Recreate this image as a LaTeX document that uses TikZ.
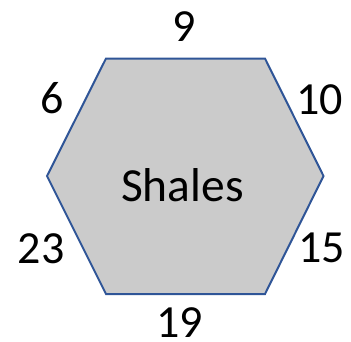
\documentclass[tikz,border=0pt]{standalone}
\usepackage{fontspec}
\setmainfont{Carlito}
\usepackage{tikz}

\definecolor{shaleGray}{HTML}{CBCBCB}
\definecolor{edgeBlue}{HTML}{2F5597}

\begin{document}
\begin{tikzpicture}[x=1pt,y=-1pt,
hexface/.style={fill=shaleGray,draw=edgeBlue,line width=2pt,line join=miter},
sideLabel/.style={anchor=base,inner sep=0pt,font=\fontsize{46}{54}\selectfont},
rockName/.style={anchor=base,inner sep=0pt,font=\fontsize{47.5}{56}\selectfont}]
\useasboundingbox (0,0) rectangle (351,341);

\coordinate (tl) at (106,58.5);
\coordinate (tr) at (265,58.5);
\coordinate (r) at (323.5,176);
\coordinate (br) at (265,294);
\coordinate (bl) at (106,294);
\coordinate (l) at (47,176);
\draw[hexface] (tl) -- (tr) -- (r) -- (br) -- (bl) -- (l) -- cycle;

\node[rockName] (shales) at (182.5,201.5) {Shales};

\node[sideLabel] (top) at (184,41) {9};
\node[sideLabel] (upleft) at (52.5,113) {6};
\node[sideLabel] (upright) at (319.5,114) {10};
\node[sideLabel] (lowleft) at (41,263) {23};
\node[sideLabel] (lowright) at (321.5,262) {15};
\node[sideLabel] (bottom) at (179.5,337) {19};
\end{tikzpicture}
\end{document}
